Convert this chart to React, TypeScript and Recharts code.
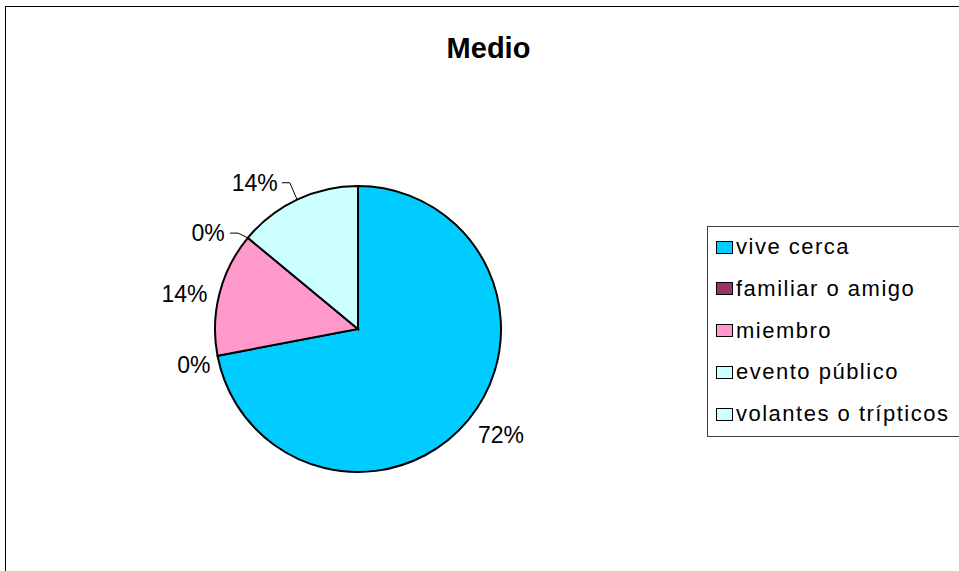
import React from 'react';
import { PieChart, Pie, Cell, Legend } from 'recharts';

const categories = ['vive cerca', 'familiar o amigo', 'miembro', 'evento público', 'volantes o trípticos'];
const shares = [72, 0, 14, 0, 14];
const sliceColors = ['#00CCFF', '#993366', '#FF99CC', '#CCFFFF', '#CCFFFF'];

const data = categories.map((name, i) => ({ name, value: shares[i] }));

const FONT = '"Liberation Sans", Arial, sans-serif';
const RAD = Math.PI / 180;
// excel pushed the small labels a little counter-clockwise
const labelNudge = [3, 1.5, 3, 7, 10];
const labelDist = [178, 168, 177, 178, 179];

const renderLabel = (props: any) => {
  const { cx, cy, midAngle, outerRadius, index, value } = props;
  const ang = (midAngle + labelNudge[index]) * RAD;
  const d = labelDist[index];
  const x = cx + d * Math.cos(ang);
  const y = cy - d * Math.sin(ang);
  const text = `${value}%`;
  const w = text.length === 2 ? 36 : 46;
  let leader = null;
  if (labelNudge[index] > 5) {
    const ex = cx + outerRadius * Math.cos(midAngle * RAD);
    const ey = cy - outerRadius * Math.sin(midAngle * RAD);
    const sx = x + w / 2 + 4;
    leader = (
      <polyline
        points={`${sx},${y} ${sx + 8},${y} ${ex},${ey}`}
        fill="none"
        stroke="#000"
        strokeWidth={1}
      />
    );
  }
  return (
    <g key={`lbl-${index}`}>
      {leader}
      <text
        x={x}
        y={y}
        textAnchor="middle"
        dominantBaseline="central"
        fontFamily={FONT}
        fontSize={23}
        fill="#000"
      >
        {text}
      </text>
    </g>
  );
};

const LegendBox = () => (
  <div
    style={{
      border: '1px solid #404040',
      width: 300,
      height: 211,
      boxSizing: 'border-box',
      position: 'relative',
      background: '#fff',
    }}
  >
    {categories.map((name, i) => (
      <div
        key={name}
        style={{
          position: 'absolute',
          left: 8,
          top: 20 + i * 41.75 - 13,
          height: 26,
          display: 'flex',
          alignItems: 'center',
          fontFamily: FONT,
          fontSize: 22,
          letterSpacing: 1.5,
          color: '#000',
          whiteSpace: 'nowrap',
        }}
      >
        <span
          style={{
            display: 'inline-block',
            width: 15,
            height: 11,
            background: sliceColors[i],
            border: '1px solid #000',
            marginRight: 3,
          }}
        />
        {name}
      </div>
    ))}
  </div>
);

export default function App() {
  return (
    <div
      style={{
        position: 'fixed',
        left: 0,
        top: 0,
        width: 959,
        height: 571,
        overflow: 'hidden',
        background: '#fff',
      }}
    >
      <div
        style={{
          position: 'absolute',
          left: 5,
          top: 6,
          width: 1000,
          height: 600,
          borderLeft: '1px solid #000',
          borderTop: '1px solid #000',
        }}
      />
      <div
        style={{
          position: 'absolute',
          left: 0,
          top: 32,
          width: 977,
          textAlign: 'center',
          fontFamily: FONT,
          fontWeight: 'bold',
          fontSize: 29,
          color: '#000',
        }}
      >
        Medio
      </div>
      <div style={{ position: 'absolute', left: 0, top: 0 }}>
        <PieChart width={959} height={571} margin={{ top: 0, right: 0, bottom: 0, left: 0 }}>
          <Pie
            data={data}
            dataKey="value"
            nameKey="name"
            cx={358}
            cy={329}
            outerRadius={143}
            startAngle={90}
            endAngle={-270}
            stroke="#000"
            strokeWidth={2}
            label={renderLabel}
            labelLine={false}
            isAnimationActive={false}
          >
            {data.map((d, i) => (
              <Cell key={d.name} fill={sliceColors[i]} />
            ))}
          </Pie>
          <Legend
            content={() => <LegendBox />}
            wrapperStyle={{ position: 'absolute', left: 707, top: 226, width: 300 }}
          />
        </PieChart>
      </div>
    </div>
  );
}
